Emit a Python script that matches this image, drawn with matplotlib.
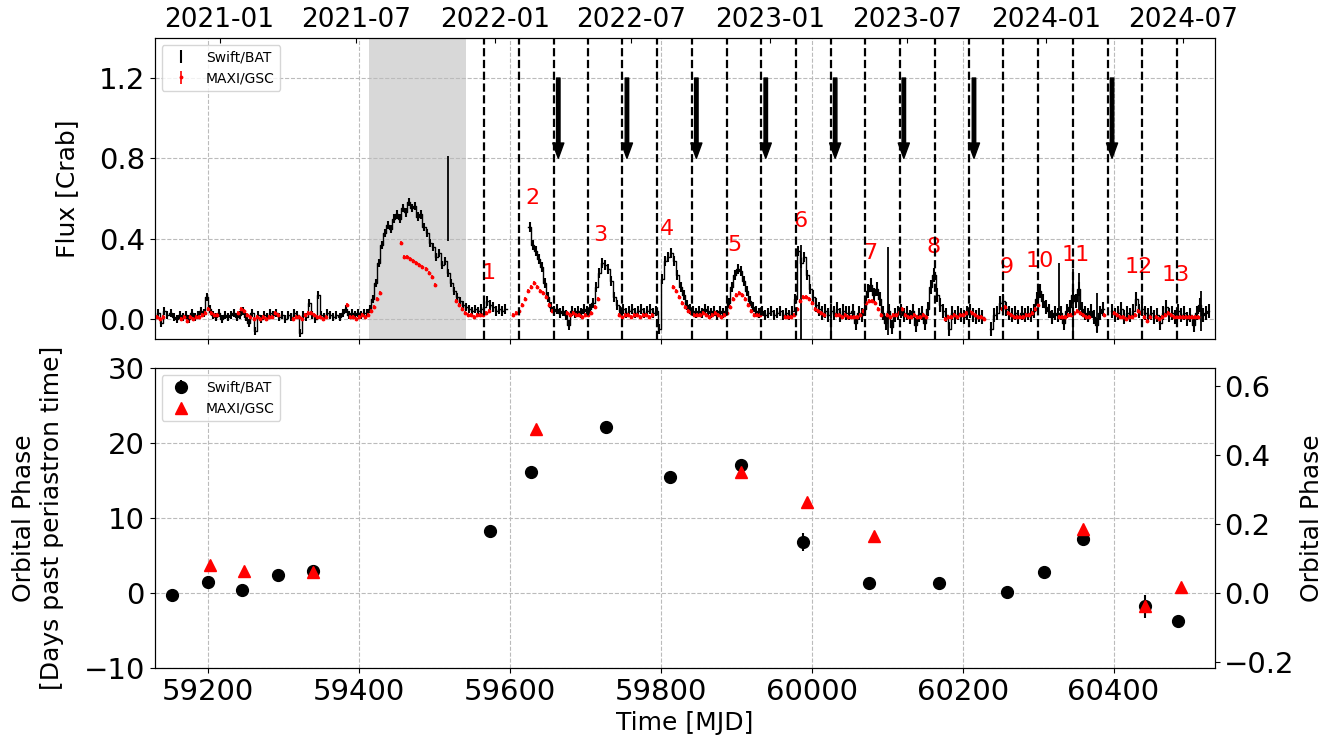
import numpy as np
import matplotlib
matplotlib.use("Agg")
import matplotlib.pyplot as plt

nan = np.nan

# ---- light curves (4-day bins) ----
bat_start, bat_step = 59130, 4
bat_flux = [
    0.01, 0.03, -0.02, 0.04, 0.02, 0.03, 0.01, 0.00, 0.02, 0.01,
    0.02, 0.00, 0.03, 0.01, 0.02, 0.04, 0.03, 0.11, 0.05, 0.02,
    0.01, 0.03, 0.00, 0.02, 0.01, 0.02, 0.03, 0.01, 0.02, 0.04,
    0.01, -0.02, 0.03, -0.06, 0.02, 0.00, 0.02, 0.01, 0.03, 0.02,
    0.03, 0.01, 0.02, 0.00, 0.02, 0.01, 0.03, 0.02, -0.07, 0.02,
    0.01, 0.08, 0.02, 0.00, 0.12, 0.02, 0.01, 0.03, 0.02, 0.01,
    0.02, 0.01, 0.03, 0.05, 0.02, 0.03, 0.02, 0.03, 0.02, 0.03,
    0.03, 0.05, 0.10, 0.18, 0.28, 0.37, 0.43, 0.47, 0.45, 0.50,
    0.52, 0.50, 0.55, 0.53, 0.58, 0.55, 0.56, 0.51, 0.52, 0.46,
    0.43, 0.38, 0.36, 0.31, 0.33, 0.27, 0.29, 0.23, 0.18, 0.14,
    0.11, 0.09, 0.07, 0.06, 0.05, 0.04, 0.05, 0.04, 0.05, 0.06,
    0.09, 0.07, 0.06, 0.04, 0.05, 0.04, 0.05, nan, nan, nan,
    nan, nan, nan, nan, 0.46, 0.37, 0.34, 0.30, 0.26, 0.18,
    0.11, 0.06, 0.04, 0.05, 0.03, 0.04, 0.02, -0.03, 0.04, 0.03,
    0.04, 0.03, 0.05, 0.04, 0.05, 0.08, 0.16, 0.23, 0.28, 0.27,
    0.25, 0.19, 0.11, 0.07, 0.04, 0.05, 0.03, 0.04, 0.05, 0.03,
    0.04, 0.05, 0.03, 0.04, 0.05, 0.03, 0.04, -0.05, 0.20, 0.29,
    0.31, 0.33, 0.29, 0.22, 0.16, 0.12, 0.07, 0.05, 0.04, 0.03,
    0.04, 0.03, 0.05, 0.04, 0.03, 0.04, 0.02, 0.04, 0.03, 0.04,
    0.08, 0.16, 0.22, 0.25, 0.24, 0.19, 0.14, 0.09, 0.06, 0.04,
    0.03, 0.04, 0.02, 0.03, 0.04, 0.02, 0.03, 0.04, 0.02, 0.03,
    0.02, 0.04, 0.10, 0.34, 0.28, 0.31, 0.22, 0.15, 0.11, 0.07,
    0.05, 0.03, 0.04, 0.02, 0.04, 0.03, 0.05, 0.02, 0.04, 0.03,
    0.03, 0.04, -0.02, 0.03, 0.02, 0.05, 0.14, 0.17, 0.12, 0.15,
    0.10, 0.03, -0.02, 0.04, -0.04, 0.02, 0.03, 0.04, 0.02, 0.03,
    0.01, 0.04, -0.03, 0.02, 0.03, -0.02, 0.05, 0.16, 0.22, 0.12,
    0.07, 0.04, 0.02, -0.05, 0.03, 0.01, 0.03, 0.02, 0.01, 0.03,
    0.04, 0.02, 0.01, 0.02, 0.01, nan, nan, -0.05, 0.02, 0.03,
    0.08, 0.09, 0.05, 0.03, 0.02, 0.03, 0.01, 0.03, 0.02, 0.03,
    0.02, 0.04, 0.10, 0.14, 0.09, 0.06, 0.04, 0.01, 0.03, 0.02,
    0.03, -0.02, 0.04, 0.06, 0.12, 0.09, 0.15, 0.05, 0.03, 0.02,
    0.04, 0.01, -0.03, 0.03, 0.05, nan, nan, 0.04, 0.02, 0.03,
    0.05, 0.01, 0.03, 0.02, 0.04, 0.10, 0.04, 0.05, 0.03, 0.02,
    0.03, 0.01, 0.02, -0.02, 0.03, 0.06, 0.02, 0.03, 0.01, 0.04,
    0.02, 0.03, 0.00, 0.02, -0.03, 0.03, 0.07, 0.02, 0.03, 0.04,
]
# typical BAT error level per time range
bat_err_edges = [59130, 59560, 60000, 60530]
bat_err_levels = [0.02, 0.025, 0.035]

# single BAT bins with large error bars
bat_spike_mjd = [59518, 59986, 60026, 60101, 60328, 60346, 60354, 60378, 60516]
bat_spike_flux = [0.60, 0.13, -0.03, 0.14, 0.16, 0.08, 0.13, 0.03, 0.04]
bat_spike_err = [0.21, 0.24, 0.08, 0.22, 0.12, 0.17, 0.10, 0.10, 0.10]

maxi_start, maxi_step = 59132, 4
maxi_flux = [
    0.01, 0.00, 0.01, nan, nan, nan, nan, nan, 0.00, 0.01,
    -0.01, 0.01, 0.00, 0.01, 0.01, 0.02, 0.03, 0.05, 0.03, 0.02,
    0.02, nan, nan, nan, nan, nan, nan, 0.03, 0.05, 0.04,
    0.02, 0.01, 0.00, 0.01, 0.00, 0.01, 0.00, 0.01, 0.01, 0.03,
    0.02, nan, nan, nan, nan, 0.00, 0.01, 0.01, 0.00, 0.02,
    0.03, 0.03, 0.02, 0.01, 0.01, 0.00, 0.01, nan, nan, nan,
    nan, nan, nan, 0.07, 0.01, 0.01, 0.00, 0.01, 0.02, 0.01,
    0.02, 0.04, 0.06, 0.10, 0.13, nan, nan, nan, nan, nan,
    nan, 0.38, 0.31, 0.31, 0.30, 0.29, 0.28, 0.27, 0.26, 0.25,
    0.23, 0.21, 0.17, nan, nan, nan, nan, nan, nan, 0.09,
    0.07, 0.05, 0.03, 0.02, 0.02, 0.01, 0.02, 0.02, 0.02, 0.03,
    0.04, nan, nan, nan, nan, nan, nan, nan, 0.02, 0.03,
    0.04, 0.07, 0.10, 0.14, 0.16, 0.18, 0.16, 0.14, 0.13, 0.11,
    0.07, 0.04, nan, nan, nan, nan, 0.03, 0.02, 0.03, 0.02,
    0.02, 0.01, 0.02, 0.02, 0.03, 0.06, 0.10, nan, nan, nan,
    nan, nan, nan, 0.02, 0.01, 0.02, 0.02, 0.01, 0.02, 0.02,
    0.01, 0.02, 0.02, 0.01, 0.02, nan, nan, nan, nan, nan,
    nan, 0.16, 0.14, 0.11, 0.08, 0.06, 0.04, 0.03, 0.02, 0.02,
    0.02, 0.03, 0.02, 0.01, 0.02, 0.03, 0.02, 0.01, 0.02, 0.03,
    0.06, 0.10, 0.12, 0.13, 0.12, 0.10, 0.07, 0.04, 0.02, 0.02,
    0.02, nan, nan, nan, nan, nan, nan, nan, 0.01, 0.01,
    0.01, 0.02, 0.05, 0.09, 0.11, 0.11, 0.10, 0.08, 0.05, 0.04,
    0.03, 0.02, nan, nan, nan, 0.02, 0.02, 0.01, 0.02, 0.01,
    0.01, 0.01, 0.01, 0.02, 0.04, 0.08, 0.09, 0.09, 0.08, 0.05,
    0.02, nan, 0.02, 0.01, 0.02, 0.02, 0.03, 0.05, 0.02, 0.01,
    0.01, 0.02, 0.01, 0.01, 0.02, 0.01, nan, nan, nan, nan,
    nan, 0.00, 0.01, 0.01, 0.02, 0.01, 0.02, 0.02, 0.03, 0.04,
    0.03, 0.02, 0.01, 0.01, 0.00, nan, nan, nan, nan, nan,
    0.05, 0.06, 0.03, 0.02, 0.01, 0.01, 0.01, 0.01, 0.02, 0.02,
    0.03, 0.05, 0.07, nan, nan, nan, nan, nan, nan, 0.01,
    0.01, 0.01, 0.02, 0.02, 0.03, 0.04, 0.03, 0.02, 0.01, 0.01,
    nan, nan, nan, nan, 0.02, nan, nan, 0.03, 0.02, 0.01,
    0.01, 0.00, 0.01, 0.01, 0.02, 0.04, 0.03, 0.01, -0.01, 0.01,
    nan, 0.01, 0.00, 0.01, 0.02, 0.03, 0.02, 0.01, 0.01, 0.01,
    0.01, 0.01, 0.01, 0.01, 0.01, 0.01, nan, nan, nan, nan,
]
maxi_err = 0.01

# ---- markers on the light curve ----
periastron_mjd = [59566, 59612, 59658, 59704, 59749, 59795, 59841, 59887,
                  59933, 59979, 60025, 60071, 60117, 60163, 60209, 60254,
                  60300, 60346, 60392, 60438, 60484]
arrow_mjd = [59664, 59755, 59847, 59939, 60031, 60122, 60215, 60398]
outburst_id = ['1', '2', '3', '4', '5', '6', '7', '8', '9', '10', '11', '12', '13']
outburst_mjd = [59572, 59630, 59720, 59808, 59897, 59985, 60078, 60162,
                60258, 60302, 60350, 60433, 60483]
outburst_lab_y = [0.23, 0.60, 0.42, 0.45, 0.37, 0.49, 0.33, 0.36,
                  0.26, 0.29, 0.32, 0.26, 0.22]
giant_start, giant_end = 59413, 59542

date_labels = ['2021-01', '2021-07', '2022-01', '2022-07',
               '2023-01', '2023-07', '2024-01', '2024-07']
date_mjd = [59215, 59396, 59580, 59761, 59945, 60126, 60310, 60492]

# ---- peak times in days past periastron ----
bat_peak_mjd = [59152, 59200, 59245, 59293, 59339, 59574, 59628, 59727,
                59812, 59906, 59989, 60076, 60168, 60259, 60308, 60359,
                60442, 60486]
bat_peak_day = [-0.3, 1.5, 0.4, 2.4, 2.9, 8.2, 16.1, 22.1,
                15.5, 17.1, 6.8, 1.3, 1.3, 0.1, 2.8, 7.2,
                -1.8, -3.8]
bat_peak_err = [0.3, 0.4, 0.3, 0.3, 0.3, 0.3, 0.3, 0.3,
                0.3, 0.3, 1.2, 0.3, 0.3, 0.3, 0.3, 0.3,
                1.5, 0.3]
maxi_peak_mjd = [59202, 59248, 59339, 59634, 59906, 59994, 60082, 60360,
                 60442, 60490]
maxi_peak_day = [3.7, 2.9, 2.8, 21.9, 16.2, 12.2, 7.6, 8.5, -1.7, 0.8]
orb_period = 45.9

xlim = (59129, 60534)

fig = plt.figure(figsize=(13.38, 7.4), dpi=100)
ax1 = fig.add_axes([0.1156, 0.542, 0.7922, 0.4068])
ax2 = fig.add_axes([0.1156, 0.0973, 0.7922, 0.4054], sharex=ax1)

bat_mjd = bat_start + bat_step * np.arange(len(bat_flux))
maxi_mjd = maxi_start + maxi_step * np.arange(len(maxi_flux))
bat_err = np.array(bat_err_levels)[np.searchsorted(bat_err_edges, bat_mjd, side='right') - 1]

ax1.axvspan(giant_start, giant_end, color='gray', alpha=0.3, lw=0, zorder=0)
ax1.plot(bat_mjd, bat_flux, drawstyle='steps-mid', color='black', lw=1.0, zorder=2)
ax1.errorbar(bat_mjd, bat_flux, yerr=bat_err, fmt='none',
             ecolor='black', elinewidth=1.5, zorder=2)
ax1.errorbar(bat_spike_mjd, bat_spike_flux, yerr=bat_spike_err, fmt='none',
             ecolor='black', elinewidth=1.3, zorder=2)
# legend proxy (vertical bar only)
h_bat = ax1.errorbar([nan], [nan], yerr=[0.1], fmt='none', ecolor='black',
                     elinewidth=1.5, label='Swift/BAT')
h_maxi = ax1.errorbar(maxi_mjd, maxi_flux, yerr=maxi_err, fmt='.', color='red',
                      ecolor='red', ms=3.5, elinewidth=1.2, label='MAXI/GSC', zorder=3)

for t in periastron_mjd:
    ax1.axvline(t, color='black', ls='--', lw=1.6, zorder=4)
for t in arrow_mjd:
    ax1.annotate('', xy=(t, 0.8), xytext=(t, 1.2),
                 arrowprops=dict(facecolor='black', edgecolor='black',
                                 width=2.5, headwidth=8, headlength=11))
for lab, t, y in zip(outburst_id, outburst_mjd, outburst_lab_y):
    ax1.text(t, y, lab, color='red', fontsize=16, ha='center', va='center')

ax1.set_xlim(xlim)
ax1.set_ylim(-0.1, 1.4)
ax1.set_yticks([0.0, 0.4, 0.8, 1.2])
ax1.set_ylabel('Flux [Crab]', fontsize=18, labelpad=14)
ax1.tick_params(axis='y', labelsize=21)
ax1.tick_params(axis='x', labelbottom=False)
ax1.grid(True, ls='--', color='#bbbbbb', lw=0.8)
ax1.legend(handles=[h_bat, h_maxi], loc='upper left', fontsize=10)

ax_top = ax1.twiny()
ax_top.set_xlim(xlim)
ax_top.set_xticks(date_mjd)
ax_top.set_xticklabels(date_labels, fontsize=19)
ax_top.tick_params(axis='x', direction='in')

h_bat2 = ax2.errorbar(bat_peak_mjd, bat_peak_day, yerr=bat_peak_err, fmt='o',
                      color='black', ms=8.5, elinewidth=1.5, label='Swift/BAT', zorder=3)
h_maxi2, = ax2.plot(maxi_peak_mjd, maxi_peak_day, '^', color='red', ms=9, ls='none',
                    label='MAXI/GSC', zorder=4)
ax2.set_ylim(-10, 30)
ax2.set_yticks([-10, 0, 10, 20, 30])
ax2.set_xticks([59200, 59400, 59600, 59800, 60000, 60200, 60400])
ax2.tick_params(labelsize=21)
ax2.set_xlabel('Time [MJD]', fontsize=18)
ax2.set_ylabel('Orbital Phase\n[Days past periastron time]', fontsize=18, labelpad=14)
ax2.grid(True, ls='--', color='#bbbbbb', lw=0.8)
ax2.legend(handles=[h_bat2, h_maxi2], loc='upper left', fontsize=10)

ax2r = ax2.twinx()
ax2r.set_ylim(-10 / orb_period, 30 / orb_period)
ax2r.set_yticks([-0.2, 0.0, 0.2, 0.4, 0.6])
ax2r.tick_params(labelsize=21)
ax2r.set_ylabel('Orbital Phase', fontsize=18)

fig.savefig('out.png', dpi=100)
